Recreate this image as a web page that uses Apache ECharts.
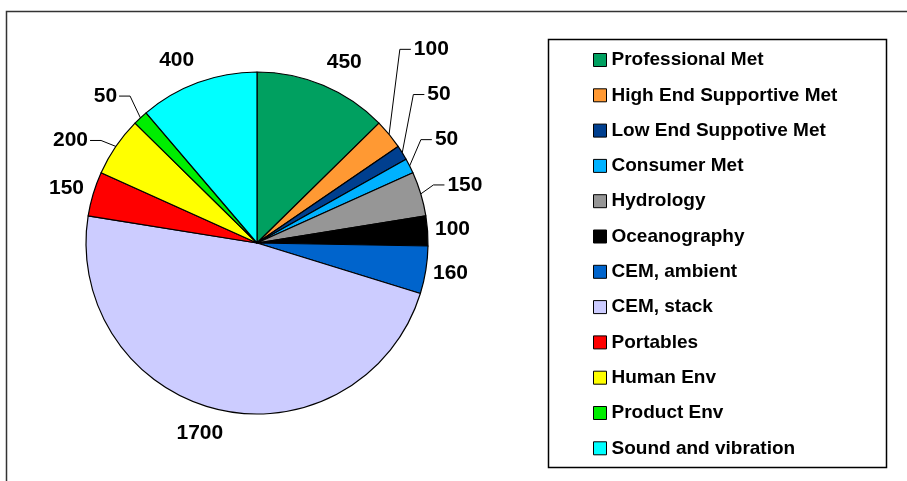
<!DOCTYPE html>
<html><head><meta charset="utf-8">
<script src="https://cdn.jsdelivr.net/npm/echarts@6/dist/echarts.min.js"></script>
<style>html,body{margin:0;padding:0;background:#fff}#c{width:907px;height:481px}</style>
</head><body><div id="c"></div>
<script>
var categories = ['Professional Met','High End Supportive Met','Low End Suppotive Met','Consumer Met','Hydrology','Oceanography','CEM, ambient','CEM, stack','Portables','Human Env','Product Env','Sound and vibration'];
var values = [450,100,50,50,150,100,160,1700,150,200,50,400];
var legendLabels = ['Professional Met','High End Supportive Met','Low End Suppotive Met','Consumer Met','Hydrology','Oceanography','CEM, ambient','CEM, stack','Portables','Human Env','Product Env','Sound and vibration'];

// styles
var sliceColors = ['#00A060','#FF9933','#003F8F','#00B2FF','#969696','#000000','#0064CC','#CCCCFF','#FF0000','#FFFF00','#00EE00','#00FFFF'];
var leaderNames = {'High End Supportive Met':1,'Low End Suppotive Met':1,'Consumer Met':1,'Hydrology':1,'Human Env':1,'Product Env':1};
// label placement: [angle clockwise from top (deg), distance from centre (px)]
var labelPlace = {
  'Professional Met':[25.8,200.5],'High End Supportive Met':[42.0,260.6],'Low End Suppotive Met':[50.8,234.9],
  'Consumer Met':[61.4,215.9],'Hydrology':[74.4,215.9],'Oceanography':[85.9,196],'CEM, ambient':[98.8,195.8],
  'CEM, stack':[196.7,198.8],'Portables':[286.1,198.3],'Human Env':[298.8,212.8],'Product Env':[314.1,211.1],
  'Sound and vibration':[336.3,199.9]
};
var CX = 257, CY = 243, R = 171;

var total = values.reduce(function(a,b){return a+b;},0);
var acc = 0;
var mids = values.map(function(v){var m=(acc+v/2)/total*360; acc+=v; return m;});

var data = categories.map(function(n,i){
  return {name:n, value:values[i], itemStyle:{color:sliceColors[i]}, labelLine:{show:!!leaderNames[n]}};
});

var chart = echarts.init(document.getElementById('c'), null, {renderer:'canvas'});
chart.setOption({
  animation:false,
  backgroundColor:'#fff',
  graphic:[
    {type:'rect', shape:{x:6.5,y:11.5,width:1200,height:1200}, style:{fill:'none',stroke:'#333',lineWidth:1.5}, silent:true},
    {type:'rect', shape:{x:548.5,y:39.5,width:338,height:428}, style:{fill:'#fff',stroke:'#000',lineWidth:1.5}, silent:true, z:-1}
  ],
  legend:{
    orient:'vertical', left:588, top:45.5, bottom:0,
    data:legendLabels,
    icon:'rect', itemWidth:13, itemHeight:13, itemGap:16.3,
    itemStyle:{borderColor:'#000',borderWidth:1},
    textStyle:{fontFamily:'Liberation Sans, Arial, sans-serif',fontWeight:'bold',fontSize:19,color:'#000',lineHeight:13},
    selectedMode:false
  },
  series:[{
    type:'pie', center:[CX,CY], radius:R, startAngle:90, clockwise:true,
    avoidLabelOverlap:false, silent:true,
    itemStyle:{borderColor:'#000',borderWidth:1.2},
    emphasis:{disabled:true},
    label:{show:true, position:'outside', formatter:'{c}', color:'#000',
      fontFamily:'Liberation Sans, Arial, sans-serif', fontWeight:'bold', fontSize:21},
    labelLine:{show:false, lineStyle:{color:'#000',width:1}},
    data:data,
    labelLayout:function(p){
      var i = p.dataIndex, n = categories[i];
      var pl = labelPlace[n];
      var a = pl[0]*Math.PI/180;
      var x = CX + pl[1]*Math.sin(a), y = CY - pl[1]*Math.cos(a);
      var out = {x:x, y:y, align:'center', verticalAlign:'middle'};
      if (leaderNames[n]) {
        var w = p.labelRect.width;
        var m = mids[i]*Math.PI/180;
        var ax = CX + R*Math.sin(m), ay = CY - R*Math.cos(m);
        var right = x > CX;
        var ex = right ? x - w/2 - 3 : x + w/2 + 2;
        var bx = right ? ex - 11 : ex + 11;
        out.labelLinePoints = [[ax,ay],[bx,y],[ex,y]];
      }
      return out;
    }
  }]
});
</script></body></html>
